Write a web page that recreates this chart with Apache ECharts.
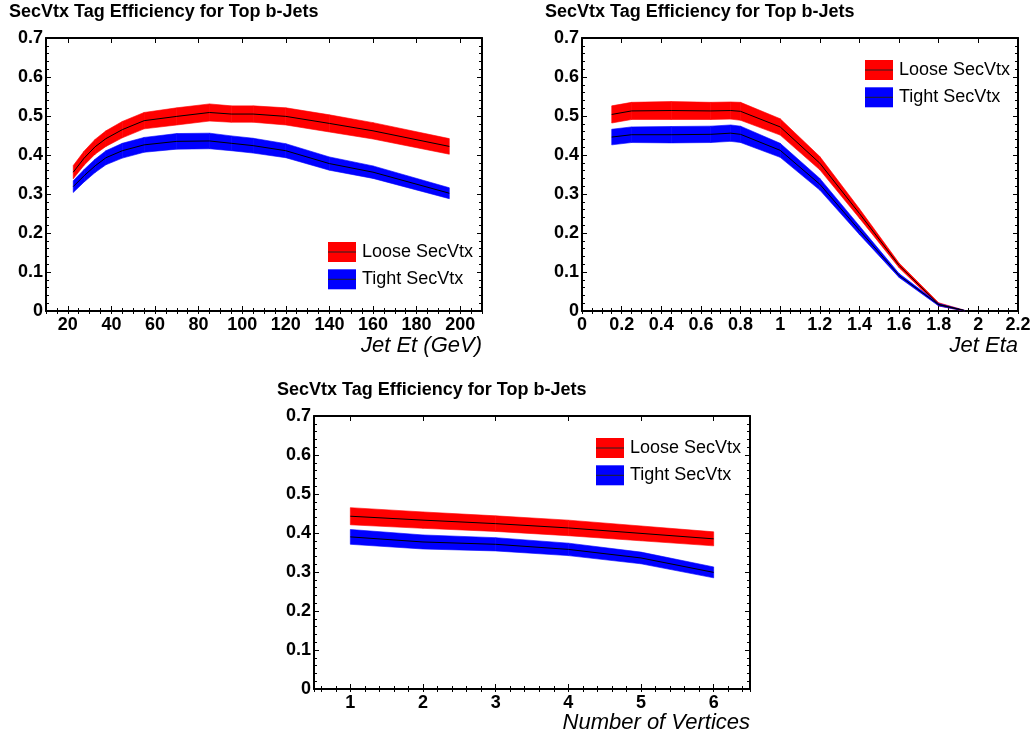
<!DOCTYPE html>
<html><head><meta charset="utf-8">
<script src="https://cdn.jsdelivr.net/npm/echarts@6/dist/echarts.min.js"></script>
<style>html,body{margin:0;padding:0;background:#fff}#c{width:1035px;height:738px}</style>
</head><body><div id="c"></div>
<script>
// ---- data ----
const titleText = 'SecVtx Tag Efficiency for Top b-Jets';
const legendNames = ['Loose SecVtx', 'Tight SecVtx'];

const etX = [22.5, 27.5, 32.5, 37.5, 45, 55, 70, 85, 95, 105, 120, 140, 160, 195];
const looseEt = [0.356, 0.392, 0.421, 0.442, 0.465, 0.488, 0.499, 0.509, 0.505, 0.505, 0.499, 0.481, 0.462, 0.422];
const looseEtErr = [0.017, 0.018, 0.019, 0.020, 0.021, 0.021, 0.022, 0.022, 0.021, 0.021, 0.022, 0.022, 0.021, 0.020];
const tightEt = [0.319, 0.347, 0.372, 0.393, 0.411, 0.426, 0.435, 0.436, 0.430, 0.424, 0.411, 0.378, 0.356, 0.302];
const tightEtErr = [0.015, 0.016, 0.017, 0.018, 0.019, 0.019, 0.020, 0.020, 0.019, 0.019, 0.018, 0.017, 0.016, 0.014];

const etaX = [0.15, 0.25, 0.45, 0.65, 0.75, 0.8, 1.0, 1.2, 1.4, 1.6, 1.8, 1.93];
const looseEta = [0.504, 0.513, 0.514, 0.513, 0.514, 0.512, 0.472, 0.379, 0.250, 0.117, 0.017, 0.001];
const looseEtaErr = [0.022, 0.022, 0.023, 0.022, 0.022, 0.023, 0.021, 0.017, 0.012, 0.006, 0.004, 0.001];
const tightEta = [0.446, 0.452, 0.452, 0.453, 0.456, 0.453, 0.412, 0.325, 0.207, 0.091, 0.016, 0.001];
const tightEtaErr = [0.020, 0.020, 0.021, 0.021, 0.021, 0.021, 0.018, 0.015, 0.011, 0.005, 0.003, 0.001];

const nvX = [1, 2, 3, 4, 5, 6];
const looseNv = [0.443, 0.433, 0.424, 0.413, 0.399, 0.385];
const looseNvErr = [0.022, 0.021, 0.020, 0.020, 0.019, 0.018];
const tightNv = [0.390, 0.377, 0.371, 0.358, 0.336, 0.299];
const tightNvErr = [0.019, 0.018, 0.017, 0.016, 0.015, 0.014];

const xNames = ['Jet Et (GeV)', 'Jet Eta', 'Number of Vertices'];

// ---- layout / style ----
const FONT = 'Liberation Sans, Arial, sans-serif';
const RED = '#ff0000', BLUE = '#0000ff';
const panels = [
  {grid:{left:46, top:38, width:436, height:273}, xmin:10, xmax:210, xMain:{splitNumber:10}, xMinor:{splitNumber:40}, hideEnds:true, nameTop:335,
   title:{left:9, top:3}, legend:{x:328, y:242},
   sets:[[etX, looseEt, looseEtErr, RED], [etX, tightEt, tightEtErr, BLUE]]},
  {grid:{left:582, top:38, width:436, height:273}, xmin:0, xmax:2.2, xMain:{interval:0.2}, xMinor:{interval:0.05}, hideEnds:false, nameTop:335,
   title:{left:545, top:3}, legend:{x:865, y:60},
   sets:[[etaX, looseEta, looseEtaErr, RED], [etaX, tightEta, tightEtaErr, BLUE]]},
  {grid:{left:314, top:416, width:436, height:273}, xmin:0.5, xmax:6.5, xMain:{splitNumber:6}, xMinor:{splitNumber:30}, hideEnds:true, nameTop:712,
   title:{left:277, top:381}, legend:{x:596, y:438},
   sets:[[nvX, looseNv, looseNvErr, RED], [nvX, tightNv, tightNvErr, BLUE]]}
];

const grids = [], xAxes = [], yAxes = [], series = [], titles = [], graphics = [];
const lineBase = {show:true, onZero:false, lineStyle:{color:'#000', width:2}};
const noLine = {show:false};

function bandRender(params, api) {
  const a0 = api.coord([api.value(0), api.value(1)]);
  const b0 = api.coord([api.value(0), api.value(2)]);
  const a1 = api.coord([api.value(3), api.value(4)]);
  const b1 = api.coord([api.value(3), api.value(5)]);
  const fill = api.visual('color');
  return {type:'polygon', shape:{points:[a0, a1, b1, b0]},
    style:{fill:fill, stroke:fill, lineWidth:0.6}};
}

panels.forEach((p, g) => {
  grids.push(Object.assign({containLabel:false}, p.grid));
  const common = {type:'value', gridIndex:g, min:p.xmin, max:p.xmax, splitLine:{show:false}};
  xAxes.push(Object.assign({}, common, p.xMain, {
    position:'bottom', axisLine:lineBase,
    axisTick:{inside:true, length:5, lineStyle:{color:'#000', width:1}},
    axisLabel:{show:true, margin:5, fontSize:18, fontWeight:'bold', fontFamily:FONT, color:'#000',
      showMinLabel:!p.hideEnds, showMaxLabel:!p.hideEnds}
  }));
  xAxes.push(Object.assign({}, common, p.xMinor, {
    position:'bottom', axisLine:noLine, axisLabel:{show:false},
    axisTick:{inside:true, length:3, lineStyle:{color:'#000', width:1}}
  }));
  xAxes.push(Object.assign({}, common, p.xMain, {
    position:'top', axisLine:lineBase, axisLabel:{show:false},
    axisTick:{inside:true, length:5, lineStyle:{color:'#000', width:1}}
  }));
  xAxes.push(Object.assign({}, common, p.xMinor, {
    position:'top', axisLine:noLine, axisLabel:{show:false},
    axisTick:{inside:true, length:3, lineStyle:{color:'#000', width:1}}
  }));
  const ycommon = {type:'value', gridIndex:g, min:0, max:0.7, interval:0.1, splitLine:{show:false},
    axisLine:lineBase,
    axisTick:{inside:true, length:5, lineStyle:{color:'#000', width:1}},
    minorTick:{show:true, splitNumber:5, length:3, lineStyle:{color:'#000', width:1}},
    minorSplitLine:{show:false}};
  yAxes.push(Object.assign({}, ycommon, {position:'left',
    axisLabel:{show:true, margin:3, fontSize:18, fontWeight:'bold', fontFamily:FONT, color:'#000'}}));
  yAxes.push(Object.assign({}, ycommon, {position:'right', axisLabel:{show:false}}));

  const xi = 4*g, yi = 2*g;
  p.sets.forEach((s, k) => {
    const [xs, ys, es, color] = s;
    const segs = [];
    for (let i = 0; i < xs.length - 1; i++) {
      segs.push([xs[i], ys[i]-es[i], ys[i]+es[i], xs[i+1], ys[i+1]-es[i+1], ys[i+1]+es[i+1]]);
    }
    series.push({type:'custom', xAxisIndex:xi, yAxisIndex:yi, silent:true, z:2,
      itemStyle:{color:color}, renderItem:bandRender,
      dimensions:['x0','lo0','hi0','x1','lo1','hi1'],
      encode:{x:[0,3], y:[1,2,4,5]}, data:segs});
    series.push({type:'line', name:legendNames[k], xAxisIndex:xi, yAxisIndex:yi, symbol:'none', silent:true, z:3,
      lineStyle:{color:'#000', width:1}, data: xs.map((x,i)=>[x, ys[i]])});
  });

  titles.push({text:titleText, left:p.title.left, top:p.title.top, padding:0,
    textStyle:{fontSize:18, fontWeight:'bold', fontFamily:FONT, color:'#000'}});
  titles.push({text:xNames[g], right:1035 - (p.grid.left + p.grid.width), top:p.nameTop, padding:0,
    textStyle:{fontSize:22, fontStyle:'italic', fontWeight:'normal', fontFamily:FONT, color:'#000', lineHeight:22}});

  [RED, BLUE].forEach((c, k) => {
    const x = p.legend.x, y = p.legend.y + k*27.3;
    graphics.push({type:'rect', z:100, shape:{x:x, y:y, width:28, height:20}, style:{fill:c}});
    graphics.push({type:'line', z:101, shape:{x1:x, y1:y+10, x2:x+28, y2:y+10}, style:{stroke:'#222', lineWidth:1}});
    graphics.push({type:'text', z:101, x:x+34, y:y+10, style:{text:legendNames[k], fill:'#000', font:'18px ' + FONT, verticalAlign:'middle'}});
  });
});

const chart = echarts.init(document.getElementById('c'));
chart.setOption({
  animation:false,
  backgroundColor:'#fff',
  title:titles,
  grid:grids,
  xAxis:xAxes,
  yAxis:yAxes,
  series:series,
  graphic:graphics
});
</script></body></html>
